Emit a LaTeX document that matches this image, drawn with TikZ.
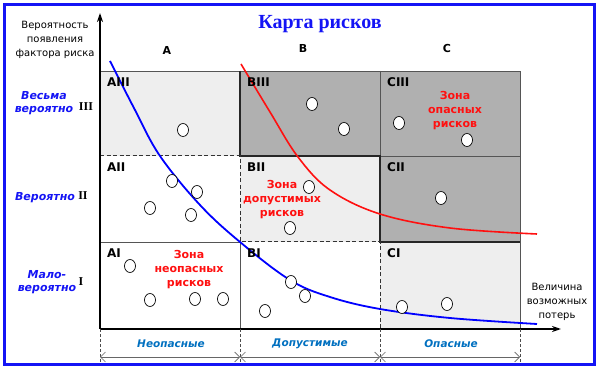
\documentclass[tikz,border=0pt]{standalone}
\usepackage{fontspec}
\setmainfont{DejaVu Sans}
\newfontfamily\titlefont{Liberation Serif}
\newfontfamily\numfont{Liberation Serif}
\definecolor{mapblue}{HTML}{1414F5}
\definecolor{zoneblue}{HTML}{0070C0}
\definecolor{riskred}{HTML}{FF1010}
\definecolor{darkcell}{HTML}{B0B0B0}
\definecolor{lightcell}{HTML}{EEEEEE}
\definecolor{gridgray}{HTML}{555555}
\usepackage{tikz}
\usetikzlibrary{arrows.meta}

\begin{document}
\begin{tikzpicture}[x=1pt, y=-1pt,
  frame/.style={draw=mapblue, line width=3pt},
  gridline/.style={draw=gridgray, line width=0.8pt},
  zoneline/.style={draw=black!85, line width=1.6pt},
  safeline/.style={draw=black!80, line width=1pt, dash pattern=on 4pt off 2.5pt},
  axisline/.style={draw=black, line width=2pt, -{Stealth[length=9pt, width=6pt]}},
  guide/.style={draw=black!70, line width=0.5pt, dash pattern=on 3pt off 2pt},
  dimline/.style={draw=black!60, line width=0.6pt, {Straight Barb[length=5pt]}-{Straight Barb[length=5pt]}},
  riskpt/.style={draw=black, fill=white, line width=0.7pt},
  cellname/.style={font=\fontsize{12}{12}\selectfont\bfseries, anchor=base west, inner sep=0pt},
  colname/.style={font=\fontsize{11}{12}\selectfont\bfseries},
  zonetext/.style={font=\fontsize{11}{14}\selectfont\bfseries, text=riskred, align=center},
  rowtext/.style={font=\fontsize{11}{13}\selectfont\bfseries\itshape, text=mapblue, align=center},
  rownum/.style={font=\fontsize{12}{12}\selectfont\numfont\bfseries},
  bottomtext/.style={font=\fontsize{10.5}{12}\selectfont\bfseries\itshape, text=zoneblue},
  axistext/.style={font=\fontsize{10}{14}\selectfont, align=center},
]
\useasboundingbox (0,0) rectangle (600,371);
\fill[white] (0,0) rectangle (600,371);
\draw[frame] (4,4.5) rectangle (594.5,364.5);

\fill[lightcell] (100,71) rectangle (240,156);
\fill[darkcell] (240,71) rectangle (520,156);
\fill[darkcell] (380,156) rectangle (520,242);
\fill[lightcell] (240,156) rectangle (380,242);
\fill[lightcell] (380,242) rectangle (520,329);

\draw[gridline] (100,71) -- (520,71) -- (520,329);
\draw[gridline] (380,71) -- (380,156) -- (520,156);
\draw[gridline] (100,242) -- (240,242) -- (240,329);
\draw[zoneline] (240,71) -- (240,156) -- (380,156) -- (380,242) -- (520,242);
\draw[safeline] (100,156) -- (240,156) -- (240,242) -- (380,242) -- (380,329);

\coordinate (orig) at (100,329);
\coordinate (ytip) at (100,13);
\coordinate (xtip) at (561,329);
\draw[axisline] (orig) -- (ytip);
\draw[axisline] (orig) -- (xtip);

\draw[blue, line width=1.8pt] plot[smooth, tension=0.6] coordinates {(110,61) (135,110) (160,156) (200,205) (240,242) (290,280) (330,297) (380,309) (450,318) (537,324)};
\draw[riskred, line width=1.6pt] plot[smooth, tension=0.6] coordinates {(241,64) (270,112) (298,157) (330,190) (380,214) (450,228) (537,234)};

\foreach \x/\y in {183/130, 312/104, 344/129, 399/123, 467/140, 172/181, 197/192, 150/208, 191/215,
  309/187, 290/228, 441/198, 130/266, 150/300, 195/299, 223/299, 291/282, 305/296, 265/311, 402/307, 447/304}
  \draw[riskpt] (\x,\y) ellipse (5.5 and 6.5);

\node[cellname] (aiii) at (107,87) {AIII};
\node[cellname] (biii) at (247,87) {BIII};
\node[cellname] (ciii) at (387,87) {CIII};
\node[cellname] (aii) at (107,172) {AII};
\node[cellname] (bii) at (247,172) {BII};
\node[cellname] (cii) at (387,172) {CII};
\node[cellname] (ai) at (107,258) {AI};
\node[cellname] (bi) at (247,258) {BI};
\node[cellname] (ci) at (387,258) {CI};

\node[font=\fontsize{20}{22}\selectfont\titlefont\bfseries, text=mapblue] (title) at (320,24) {Карта рисков};
\node[colname] (cola) at (167,50) {A};
\node[colname] (colb) at (303,48) {B};
\node[colname] (colc) at (447,48) {C};

\node[axistext] (ylab) at (55,40) {Вероятность\\появления\\фактора риска};
\node[axistext] (xlab) at (557,302) {Величина\\возможных\\потерь};

\node[rowtext] (row3) at (44,103) {Весьма\\вероятно};
\node[rownum] (num3) at (86,107) {III};
\node[rowtext] (row2) at (45,198) {Вероятно};
\node[rownum] (num2) at (83,196) {II};
\node[rowtext] (row1) at (47,282) {Мало-\\вероятно};
\node[rownum] (num1) at (81,282) {I};

\node[zonetext] (zsafe) at (189,270) {Зона\\неопасных\\рисков};
\node[zonetext] (zmid) at (282,200) {Зона\\допустимых\\рисков};
\node[zonetext] (zdang) at (455,111) {Зона\\опасных\\рисков};

\coordinate (g0) at (100,329);
\coordinate (g1) at (240,329);
\coordinate (g2) at (380,329);
\coordinate (g3) at (520,329);
\coordinate (h0) at (100,364);
\coordinate (h1) at (240,364);
\coordinate (h2) at (380,364);
\coordinate (h3) at (520,364);
\draw[guide] (g0) -- (h0);
\draw[guide] (g1) -- (h1);
\draw[guide] (g2) -- (h2);
\draw[guide] (g3) -- (h3);
\coordinate (d0) at (100,357);
\coordinate (d1) at (240,357);
\coordinate (d2) at (380,357);
\coordinate (d3) at (520,357);
\draw[dimline] (d0) -- (d1);
\draw[dimline] (d1) -- (d2);
\draw[dimline] (d2) -- (d3);

\node[bottomtext] (lowa) at (171,344) {Неопасные};
\node[bottomtext] (lowb) at (310,344) {Допустимые};
\node[bottomtext] (lowc) at (451,344) {Опасные};
\end{tikzpicture}
\end{document}
